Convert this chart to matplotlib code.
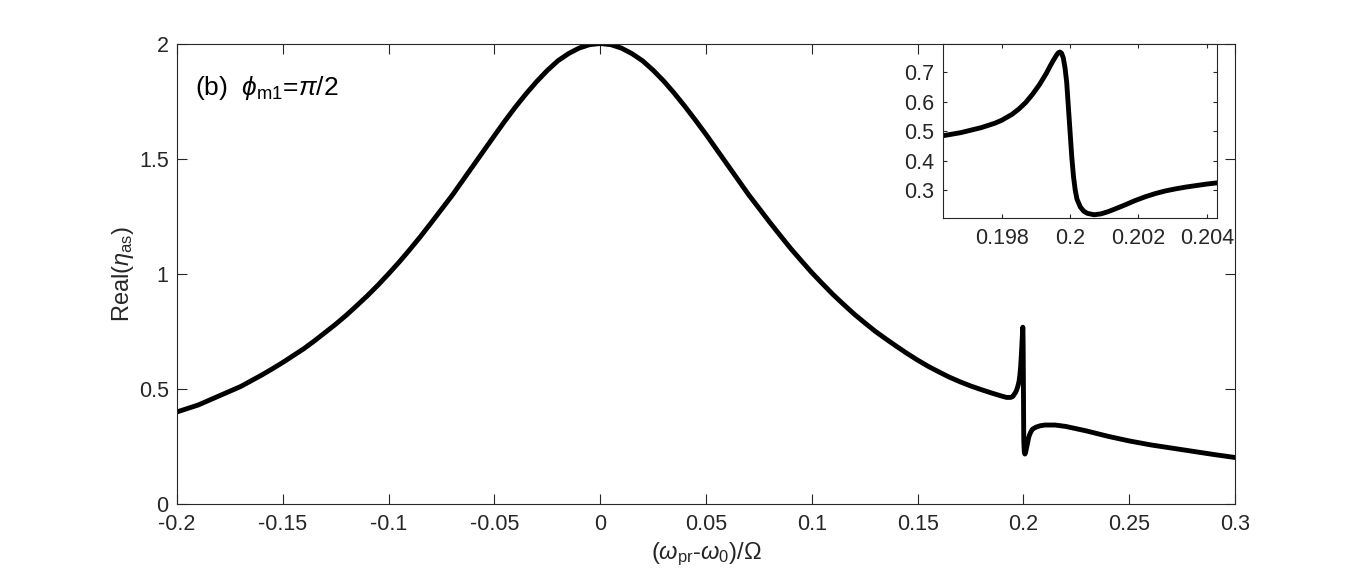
import numpy as np
import matplotlib
matplotlib.use("Agg")
from matplotlib import pyplot as plt

# ======== DATA ==================================
detuning = [
    -0.200, -0.195, -0.190, -0.185, -0.180, -0.175, -0.170, -0.165, -0.160,
    -0.155, -0.150, -0.145, -0.140, -0.135, -0.130, -0.125, -0.120, -0.115,
    -0.110, -0.105, -0.100, -0.095, -0.090, -0.085, -0.080, -0.075, -0.070,
    -0.065, -0.060, -0.055, -0.050, -0.045, -0.040, -0.035, -0.030, -0.025,
    -0.020, -0.015, -0.010, -0.005, 0.000, 0.005, 0.010, 0.015, 0.020,
    0.025, 0.030, 0.035, 0.040, 0.045, 0.050, 0.055, 0.060, 0.065, 0.070,
    0.075, 0.080, 0.085, 0.090, 0.095, 0.100, 0.105, 0.110, 0.115, 0.120,
    0.125, 0.130, 0.135, 0.140, 0.145, 0.150, 0.155, 0.160, 0.165, 0.170,
    0.175, 0.180, 0.185, 0.190, 0.192, 0.194, 0.195,
    0.1963, 0.1968, 0.1974, 0.1978, 0.1980, 0.1983, 0.1985, 0.1987, 0.1989,
    0.1991, 0.1993, 0.1994, 0.1995, 0.1996, 0.19965, 0.1997, 0.19975,
    0.1998, 0.19985, 0.1999, 0.19995, 0.2000, 0.20005, 0.2001, 0.20015,
    0.2002, 0.2003, 0.2004, 0.2005, 0.2007, 0.2009, 0.2011, 0.2013, 0.2016,
    0.2019, 0.2022, 0.2025, 0.2028, 0.2031, 0.2034, 0.2037, 0.2040, 0.2043,
    0.205, 0.206, 0.208, 0.210, 0.215, 0.220, 0.230, 0.240, 0.250, 0.260,
    0.270, 0.280, 0.290, 0.300,
]
real_eta = [
    0.400, 0.415, 0.430, 0.450, 0.470, 0.490, 0.510, 0.535, 0.560,
    0.587, 0.615, 0.645, 0.675, 0.709, 0.745, 0.781, 0.820, 0.862,
    0.905, 0.951, 1.000, 1.051, 1.105, 1.161, 1.220, 1.280, 1.340,
    1.405, 1.470, 1.535, 1.600, 1.664, 1.725, 1.782, 1.835, 1.883,
    1.925, 1.956, 1.980, 1.995, 2.000, 1.995, 1.980, 1.956, 1.925,
    1.884, 1.837, 1.784, 1.727, 1.667, 1.605, 1.540, 1.475, 1.410, 1.345,
    1.285, 1.225, 1.167, 1.110, 1.057, 1.005, 0.957, 0.910, 0.867, 0.825,
    0.787, 0.750, 0.717, 0.685, 0.654, 0.625, 0.598, 0.574, 0.551, 0.531,
    0.513, 0.497, 0.482, 0.468, 0.463, 0.463, 0.467,
    0.485, 0.495, 0.512, 0.527, 0.537, 0.557, 0.575, 0.597, 0.625,
    0.657, 0.695, 0.717, 0.738, 0.757, 0.765, 0.768, 0.764,
    0.748, 0.715, 0.665, 0.580, 0.490, 0.410, 0.345, 0.300,
    0.270, 0.243, 0.229, 0.222, 0.217, 0.220, 0.227, 0.236, 0.250,
    0.265, 0.278, 0.289, 0.298, 0.305, 0.311, 0.316, 0.321, 0.325,
    0.329, 0.334, 0.340, 0.343, 0.343, 0.337, 0.317, 0.294, 0.274, 0.257,
    0.243, 0.229, 0.215, 0.202,
]

main_xticks = [-0.2, -0.15, -0.1, -0.05, 0, 0.05, 0.1, 0.15, 0.2, 0.25, 0.3]
main_xlabels = ["-0.2", "-0.15", "-0.1", "-0.05", "0", "0.05", "0.1",
                "0.15", "0.2", "0.25", "0.3"]
main_yticks = [0, 0.5, 1, 1.5, 2]
main_ylabels = ["0", "0.5", "1", "1.5", "2"]

inset_xticks = [0.198, 0.2, 0.202, 0.204]
inset_xlabels = ["0.198", "0.2", "0.202", "0.204"]
inset_yticks = [0.3, 0.4, 0.5, 0.6, 0.7]
inset_ylabels = ["0.3", "0.4", "0.5", "0.6", "0.7"]

# ======== STYLE =========
plt.rcParams["font.family"] = ["Liberation Sans", "DejaVu Sans"]
plt.rcParams["mathtext.fontset"] = "custom"
plt.rcParams["mathtext.rm"] = "Liberation Sans"
plt.rcParams["mathtext.it"] = "Liberation Sans:italic"
plt.rcParams["mathtext.fallback"] = "cm"

AX_COLOR = "#262626"
FS = 15.5


def matlab_axes(ax, ticklen):
    for s in ax.spines.values():
        s.set_color(AX_COLOR)
        s.set_linewidth(0.8)
    ax.tick_params(direction="in", length=ticklen, width=0.8, colors=AX_COLOR,
                   top=True, right=True, labelsize=FS)
    ax.tick_params(axis="x", pad=7)
    ax.tick_params(axis="y", pad=6)


fig = plt.figure(figsize=(13.66, 5.8), dpi=100)

# main axes
ax = fig.add_axes([0.1296, 0.131, 0.7745, 0.794])
ax.plot(detuning, real_eta, color="black", linewidth=3.5, solid_joinstyle="round")
ax.set_xlim(-0.2, 0.3)
ax.set_ylim(0, 2)
ax.set_xticks(main_xticks)
ax.set_xticklabels(main_xlabels)
ax.set_yticks(main_yticks)
ax.set_yticklabels(main_ylabels)
matlab_axes(ax, 7)
ax.set_xlabel(r"($\omega_{\rm pr}$-$\omega_{\rm 0}$)/$\Omega$", fontsize=17, color=AX_COLOR, labelpad=4)
ax.set_ylabel(r"Real($\eta_{\rm as}$)", fontsize=17, color=AX_COLOR, labelpad=2)
ax.text(0.017, 0.903, r"(b)  $\phi_{\rm m1}$=$\pi$/2", transform=ax.transAxes,
        fontsize=19, color="black", va="center", ha="left")

# inset
axi = fig.add_axes([0.6901, 0.6236, 0.2006, 0.3005])
axi.plot(detuning, real_eta, color="black", linewidth=3.5, solid_joinstyle="round")
axi.set_xlim(0.19627, 0.20429)
axi.set_ylim(0.205, 0.795)
axi.set_xticks(inset_xticks)
axi.set_xticklabels(inset_xlabels)
axi.set_yticks(inset_yticks)
axi.set_yticklabels(inset_ylabels)
matlab_axes(axi, 3)

fig.savefig("out.png", dpi=100)
